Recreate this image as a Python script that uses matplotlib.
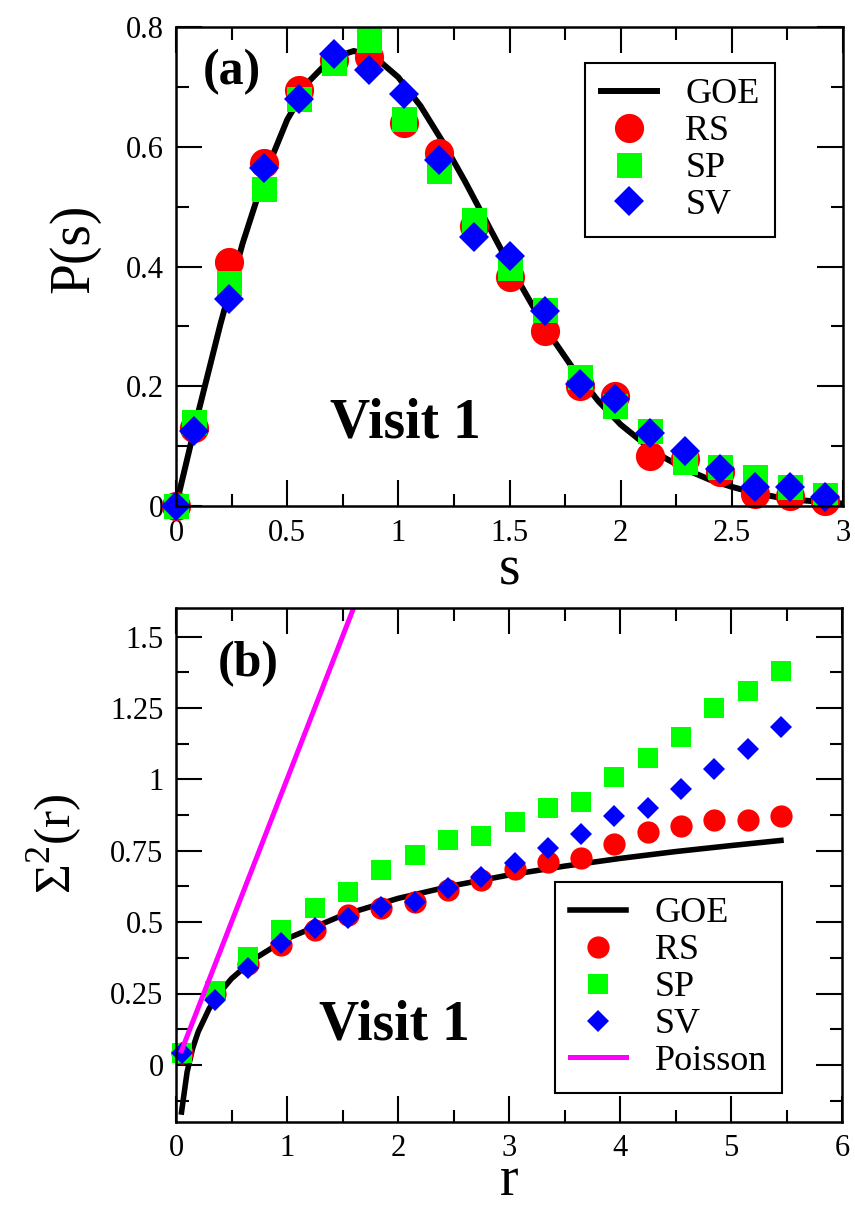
import matplotlib
matplotlib.use('Agg')
import matplotlib.pyplot as plt
from matplotlib import font_manager
from matplotlib.ticker import MultipleLocator

# Times-like serif, picked by file
font_files = {f.fname.split('/')[-1]: f.fname for f in font_manager.fontManager.ttflist}
serif_path = font_files.get('LiberationSerif-Regular.ttf')
serif_bold_path = font_files.get('LiberationSerif-Bold.ttf')
plt.rcParams['mathtext.fontset'] = 'custom'
plt.rcParams['mathtext.rm'] = 'Liberation Serif'
plt.rcParams['mathtext.bf'] = 'Liberation Serif:bold'


def fp(size, bold=False):
    return font_manager.FontProperties(fname=serif_bold_path if bold else serif_path, size=size)


# ---- panel (a): nearest neighbour spacing distribution ----
s_pts = [0.0, 0.079, 0.237, 0.395, 0.553, 0.711, 0.868, 1.026, 1.184, 1.342,
         1.5, 1.658, 1.816, 1.974, 2.132, 2.289, 2.447, 2.605, 2.763, 2.921]
ps_rs = [0.0, 0.13, 0.407, 0.573, 0.695, 0.745, 0.75, 0.64, 0.59, 0.467,
         0.382, 0.292, 0.2, 0.183, 0.083, 0.078, 0.057, 0.02, 0.017, 0.008]
ps_sp = [0.0, 0.14, 0.373, 0.53, 0.68, 0.74, 0.778, 0.646, 0.559, 0.478,
         0.398, 0.328, 0.215, 0.167, 0.125, 0.073, 0.065, 0.048, 0.032, 0.018]
ps_sv = [0.0, 0.125, 0.345, 0.565, 0.68, 0.755, 0.728, 0.688, 0.578, 0.45,
         0.417, 0.325, 0.203, 0.178, 0.122, 0.092, 0.062, 0.032, 0.032, 0.015]

s_goe = [0.0, 0.1, 0.2, 0.3, 0.4, 0.5, 0.6, 0.7, 0.8, 0.9, 1.0, 1.1, 1.2, 1.3, 1.4,
         1.5, 1.6, 1.7, 1.8, 1.9, 2.0, 2.1, 2.2, 2.3, 2.4, 2.5, 2.6, 2.7, 2.8, 2.9, 3.0]
p_goe = [0.0, 0.156, 0.304, 0.439, 0.554, 0.645, 0.710, 0.748, 0.760, 0.748, 0.716,
         0.668, 0.608, 0.542, 0.472, 0.402, 0.337, 0.276, 0.222, 0.175, 0.136,
         0.106, 0.080, 0.060, 0.044, 0.032, 0.022, 0.015, 0.010, 0.007, 0.004]

# ---- panel (b): number variance ----
r_pts = [0.05, 0.35, 0.65, 0.95, 1.25, 1.55, 1.85, 2.15, 2.45, 2.75,
         3.05, 3.35, 3.65, 3.95, 4.25, 4.55, 4.85, 5.15, 5.45]
sig_rs = [0.042, 0.25, 0.355, 0.419, 0.472, 0.525, 0.549, 0.57, 0.613, 0.648,
          0.687, 0.71, 0.725, 0.775, 0.817, 0.838, 0.856, 0.859, 0.87]
sig_sp = [0.042, 0.26, 0.377, 0.472, 0.549, 0.606, 0.683, 0.736, 0.789, 0.80,
          0.849, 0.90, 0.92, 1.007, 1.074, 1.148, 1.25, 1.31, 1.38]
sig_sv = [0.042, 0.228, 0.338, 0.426, 0.479, 0.514, 0.553, 0.57, 0.62, 0.658,
          0.708, 0.76, 0.81, 0.87, 0.898, 0.965, 1.035, 1.106, 1.183]

r_goe = [0.05, 0.1, 0.15, 0.2, 0.3, 0.4, 0.5, 0.7, 1.0, 1.5, 2.0, 2.5, 3.0,
         3.5, 4.0, 4.5, 5.0, 5.45]
sig_goe = [-0.165, -0.025, 0.058, 0.116, 0.198, 0.256, 0.302, 0.370, 0.442,
           0.524, 0.583, 0.628, 0.665, 0.696, 0.723, 0.747, 0.768, 0.786]

r_poisson = [0.05, 2.0]
sig_poisson = [0.05, 2.0]

fig = plt.figure(figsize=(8.55, 12.05), dpi=100)
ax1 = fig.add_axes([176/855, 1-506/1205, 667/855, 479/1205])
ax2 = fig.add_axes([176/855, 1-1122/1205, 666/855, 514/1205])


def style_axes(ax):
    for sp in ax.spines.values():
        sp.set_linewidth(1.8)
    ax.tick_params(which='both', direction='in', top=True, right=True,
                   width=1.5, pad=9)
    ax.tick_params(which='major', length=19)
    ax.tick_params(which='minor', length=9)
    for lab in ax.get_xticklabels() + ax.get_yticklabels():
        lab.set_fontproperties(fp(22))


def make_legend(ax, anchor, loc):
    leg = ax.legend(loc=loc, bbox_to_anchor=anchor, borderaxespad=0,
                    prop=fp(26), fancybox=False, framealpha=1, edgecolor='black',
                    handlelength=1.55, handletextpad=0.8, labelspacing=0.1,
                    borderpad=0.42, numpoints=1)
    leg.get_frame().set_linewidth(1.5)
    leg.set_zorder(5)
    return leg


# panel (a)
ax1.plot(s_goe, p_goe, color='black', lw=4.3, label='GOE')
ax1.plot(s_pts, ps_rs, 'o', color='red', ms=21, mew=0, label='RS', clip_on=False)
ax1.plot(s_pts, ps_sp, 's', color='#00ff00', ms=18, mew=0, label='SP', clip_on=False)
ax1.plot(s_pts, ps_sv, 'D', color='blue', ms=15, mew=0, label='SV', clip_on=False)
ax1.set_xlim(0, 3)
ax1.set_ylim(0, 0.8)
ax1.set_xticks([0, 0.5, 1, 1.5, 2, 2.5, 3])
ax1.set_xticklabels(['0', '0.5', '1', '1.5', '2', '2.5', '3'])
ax1.set_yticks([0, 0.2, 0.4, 0.6, 0.8])
ax1.set_yticklabels(['0', '0.2', '0.4', '0.6', '0.8'])
ax1.xaxis.set_minor_locator(MultipleLocator(0.25))
ax1.yaxis.set_minor_locator(MultipleLocator(0.1))
style_axes(ax1)
ax1.set_xlabel('s', fontproperties=fp(40), labelpad=-2)
ax1.set_ylabel('P(s)', fontproperties=fp(40))
ax1.yaxis.set_label_coords(-0.114, 0.539)
ax1.text(0.25, 0.725, '(a)', fontproperties=fp(36, True), ha='center', va='center')
ax1.text(1.03, 0.137, 'Visit 1', fontproperties=fp(40, True), ha='center', va='center')
make_legend(ax1, (0.898, 0.925), 'upper right')

# panel (b)
ax2.plot(r_goe, sig_goe, color='black', lw=4, label='GOE')
ax2.plot(r_pts, sig_rs, 'o', color='red', ms=16, mew=0, label='RS', clip_on=False)
ax2.plot(r_pts, sig_sp, 's', color='#00ff00', ms=14, mew=0, label='SP', clip_on=False)
ax2.plot(r_pts, sig_sv, 'D', color='blue', ms=11.5, mew=0, label='SV', clip_on=False)
ax2.plot(r_poisson, sig_poisson, color='magenta', lw=3.6, label='Poisson')
ax2.set_xlim(0, 6)
ax2.set_ylim(-0.2, 1.6)
ax2.set_xticks([0, 1, 2, 3, 4, 5, 6])
ax2.set_xticklabels(['0', '1', '2', '3', '4', '5', '6'])
ax2.set_yticks([0, 0.25, 0.5, 0.75, 1, 1.25, 1.5])
ax2.set_yticklabels(['0', '0.25', '0.5', '0.75', '1', '1.25', '1.5'])
ax2.xaxis.set_minor_locator(MultipleLocator(0.5))
ax2.yaxis.set_minor_locator(MultipleLocator(0.125))
style_axes(ax2)
ax2.set_xlabel('r', fontproperties=fp(40), labelpad=-6)
ax2.set_ylabel(r'Σ$^{\mathrm{2}}$(r)', fontproperties=fp(37))
ax2.yaxis.set_label_coords(-0.137, 0.541)
ax2.text(0.65, 1.405, '(b)', fontproperties=fp(36, True), ha='center', va='center')
ax2.text(1.97, 0.137, 'Visit 1', fontproperties=fp(40, True), ha='center', va='center')
make_legend(ax2, (0.91, 0.056), 'lower right')

fig.savefig('out.png', dpi=100)
